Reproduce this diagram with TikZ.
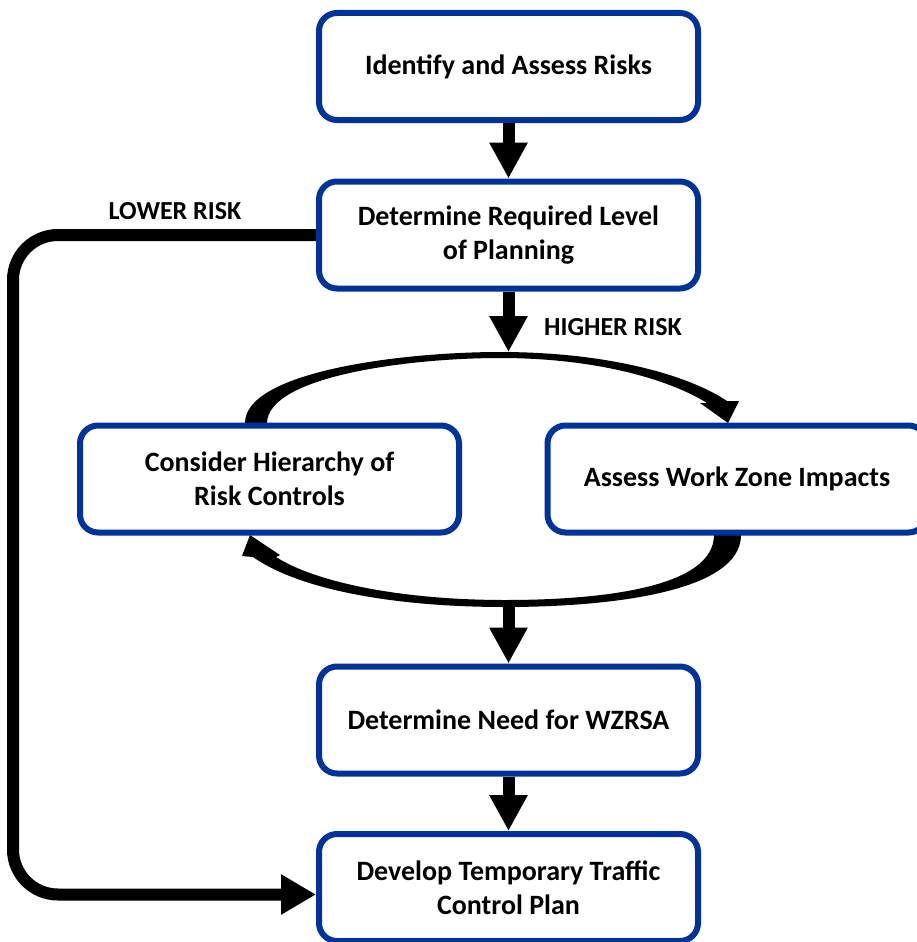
\documentclass[tikz,border=0pt]{standalone}
\usepackage{fontspec}
\setmainfont{Carlito}
\usetikzlibrary{arrows.meta}
\definecolor{boxblue}{HTML}{003399}
\tikzset{
    stepbox/.style={draw=boxblue, line width=6pt, rounded corners=18pt, fill=white,
        minimum width=379pt, minimum height=107pt, inner sep=0pt, align=center,
        font=\fontsize{28}{34}\selectfont\bfseries},
    blockarrow/.style={line width=12pt, -{Triangle[length=36pt,width=36pt]}},
    risklabel/.style={font=\fontsize{26}{33}\selectfont\bfseries},
}
\begin{document}
\begin{tikzpicture}[x=1pt,y=-1pt]
    \useasboundingbox (0,0) rectangle (917,942);

    \fill (245,423) .. controls (245,372) and (400,352) .. (500,352)
        .. controls (610,352) and (690,376) .. (727,401) -- (739,401) -- (728,423) -- (700,403) -- (707,403)
        .. controls (672,381) and (600,358) .. (500,358)
        .. controls (410,358) and (268,376) .. (267,423) -- cycle;
    \fill (741,535) .. controls (741,592) and (610,607) .. (505,607)
        .. controls (395,607) and (300,590) .. (253,557) -- (242,556) -- (250,535) -- (280,555) -- (276,557)
        .. controls (315,582) and (400,600) .. (505,600)
        .. controls (600,600) and (714,588) .. (714,535) -- cycle;

    \node[stepbox] (identify) at (508.5,66.5) {Identify and Assess Risks};
    \node[stepbox] (level) at (508.5,235) {Determine Required Level\\of Planning};
    \node[stepbox] (hierarchy) at (269.5,479) {Consider Hierarchy of\\Risk Controls};
    \node[stepbox] (impacts) at (737,479) {Assess Work Zone Impacts};
    \node[stepbox] (wzrsa) at (508.5,720) {Determine Need for WZRSA};
    \node[stepbox] (ttcp) at (508.5,887.5) {Develop Temporary Traffic\\Control Plan};

    \node[risklabel] (lower) at (175,211) {LOWER RISK};
    \node[risklabel] (higher) at (613,327) {HIGHER RISK};

    \coordinate (looptop) at (508.5,352);
    \coordinate (loopbottom) at (508.5,604);

    \draw[blockarrow] (identify.south) -- (level.north);
    \draw[blockarrow] (level.south) -- (looptop);
    \draw[blockarrow] (loopbottom) -- (wzrsa.north);
    \draw[blockarrow] (wzrsa.south) -- (ttcp.north);
    \draw[line width=12pt, rounded corners=45pt, -{Triangle[length=35pt,width=38pt]}]
        (level.west) -- ++(-303,0) |- ([yshift=-7pt]ttcp.west);
\end{tikzpicture}
\end{document}
